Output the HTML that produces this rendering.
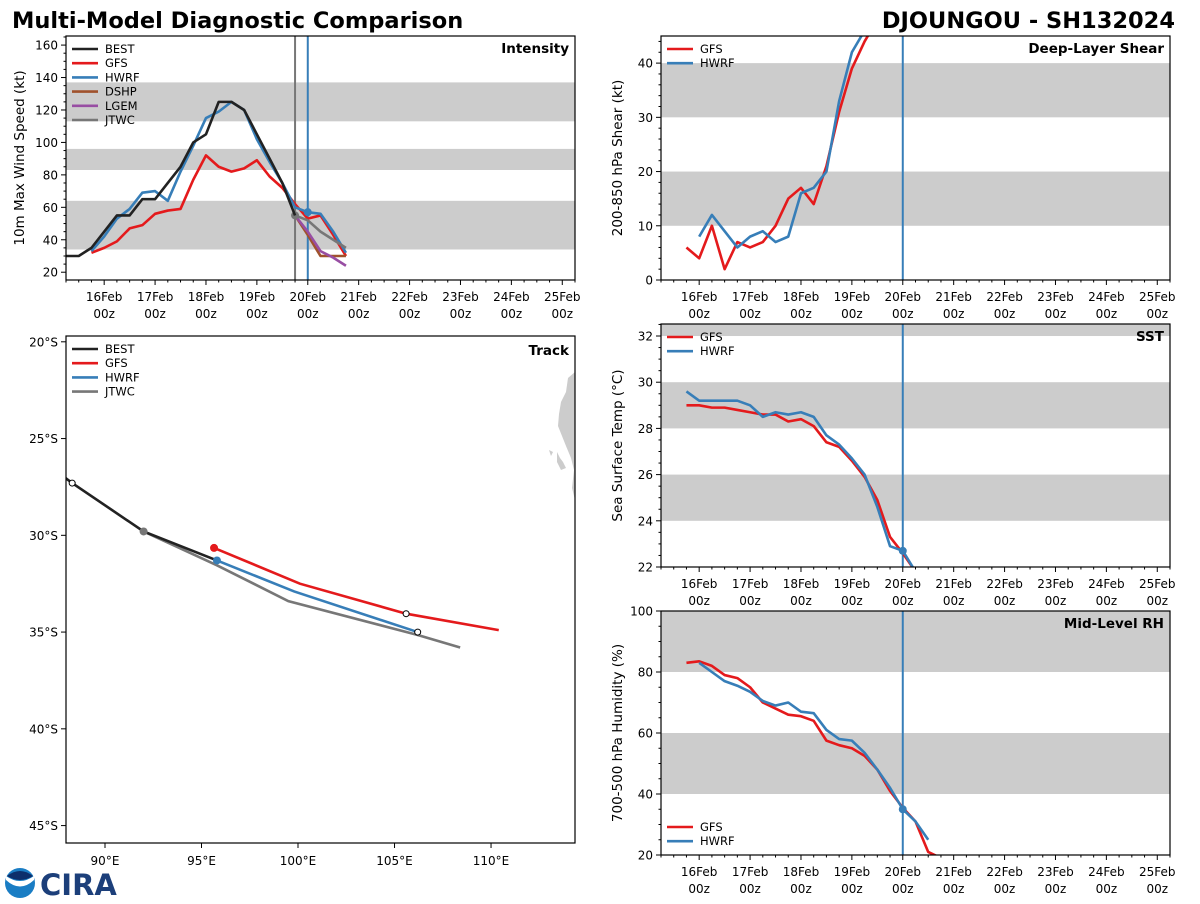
<!DOCTYPE html>
<html><head><meta charset="utf-8">
<style>
body{margin:0;background:#fff;width:1200px;height:900px;overflow:hidden;font-family:"DejaVu Sans","Liberation Sans",sans-serif;}
svg text{font-family:"DejaVu Sans","Liberation Sans",sans-serif;}
</style></head>
<body>
<svg id="chart" width="1200" height="900" viewBox="0 0 1200 900" xmlns="http://www.w3.org/2000/svg">
<text x="12" y="28" font-size="22.5" font-weight="bold">Multi-Model Diagnostic Comparison</text>
<text x="1175" y="28" font-size="22.5" font-weight="bold" text-anchor="end">DJOUNGOU - SH132024</text>
<g>
<circle cx="20" cy="883" r="15" fill="#1a7dc4"/>
<path d="M6,880 Q20,893 34,880 L34,876 Q20,886 6,876 Z" fill="#fff"/>
<path d="M7,876 Q20,866 33,876 Q20,884 7,876 Z" fill="#0d2f6b"/>
<text x="40" y="895" font-size="29" font-weight="bold" fill="#1c3f7a" font-family="Liberation Serif,serif">CIRA</text>
</g>
</svg>
<script>
// ---- data (hours since 16Feb 00z) ----
const dayLabels=["16Feb","17Feb","18Feb","19Feb","20Feb","21Feb","22Feb","23Feb","24Feb","25Feb"];
const intT_best=[-18,-12,-6,0,6,12,18,24,30,36,42,48,54,60,66,72,78,84,90];
const intV_best=[30,30,35,45,55,55,65,65,75,85,100,105,125,125,120,105,90,75,55];
const intT_gfs=[-6,0,6,12,18,24,30,36,42,48,54,60,66,72,78,84,90,96,102,108,114];
const intV_gfs=[32,35,39,47,49,56,58,59,77,92,85,82,84,89,79,72,62,53,55,43,30];
const intT_hwrf=[-6,0,6,12,18,24,30,36,42,48,54,60,66,72,78,84,90,96,102,108,114];
const intV_hwrf=[33,42,53,59,69,70,64,82,98,115,119,125,120,102,88,75,60,57,56,45,32];
const intT_fc=[90,96,102,108,114];
const intV_dshp=[55,43,30,30,30];
const intV_lgem=[55,45,33,29,24];
const intV_jtwc=[55,52,45,40,35];
const shT_gfs=[-6,0,6,12,18,24,30,36,42,48,54,60,66,72,78,84];
const shV_gfs=[6,4,10,2,7,6,7,10,15,17,14,21,31,39,44,48];
const shT_hwrf=[0,6,12,18,24,30,36,42,48,54,60,66,72,78];
const shV_hwrf=[8,12,9,6,8,9,7,8,16,17,20,33,42,46];
const sstT=[-6,0,6,12,18,24,30,36,42,48,54,60,66,72,78,84,90,96,102];
const sstV_gfs=[29.0,29.0,28.9,28.9,28.8,28.7,28.6,28.6,28.3,28.4,28.1,27.4,27.2,26.6,25.9,24.9,23.3,22.6,21.8];
const sstV_hwrf=[29.6,29.2,29.2,29.2,29.2,29.0,28.5,28.7,28.6,28.7,28.5,27.7,27.3,26.7,26.0,24.6,22.9,22.7,21.8];
const rhT_gfs=[-6,0,6,12,18,24,30,36,42,48,54,60,66,72,78,84,90,96,102,108,114];
const rhV_gfs=[83,83.5,82,79,78,75,70,68,66,65.5,64,57.5,56,55,52.5,48,41,35.5,31,21,19];
const rhT_hwrf=[0,6,12,18,24,30,36,42,48,54,60,66,72,78,84,90,96,102,108];
const rhV_hwrf=[83,80,77,75.5,73.5,70.5,69,70,67,66.5,61,58,57.5,53.5,48,42,35,31,25];
const trkLon_best=[87.9,88.3,92.0,95.8];
const trkLat_best=[-27.0,-27.3,-29.8,-31.3];
const trkLon_gfs=[95.65,100.1,105.6,110.4];
const trkLat_gfs=[-30.65,-32.5,-34.05,-34.9];
const trkLon_hwrf=[95.8,99.8,106.2];
const trkLat_hwrf=[-31.3,-32.9,-35.0];
const trkLon_jtwc=[92.0,95.8,99.5,106.2,108.4];
const trkLat_jtwc=[-29.8,-31.55,-33.4,-35.15,-35.8];

const C={best:"#222",gfs:"#e41a1c",hwrf:"#377eb8",dshp:"#a0522d",lgem:"#984ea3",jtwc:"#777"};
const svg=document.getElementById('chart');
const NS="http://www.w3.org/2000/svg";
function mk(tag,attrs,parent){const e=document.createElementNS(NS,tag);for(const k in attrs)e.setAttribute(k,attrs[k]);(parent||svg).appendChild(e);return e;}

function timePanel(o){
  const g=mk('g',{});
  
  
  const X=t=>o.x0+(t+18)/240*(o.x1-o.x0);
  const Y=v=>o.y1-(v-o.vmin)/(o.vmax-o.vmin)*(o.y1-o.y0);
  o.bands.forEach(b=>{const ya=Math.max(Y(b[1]),o.y0),yb=Math.min(Y(b[0]),o.y1);
    const r=mk('rect',{x:o.x0,y:ya,width:o.x1-o.x0,height:yb-ya,fill:"#cccccc"},g);
    });
  const clipId=o.name+'-clip';
  const cp=mk('clipPath',{id:clipId},g);mk('rect',{x:o.x0,y:o.y0,width:o.x1-o.x0,height:o.y1-o.y0},cp);
  (o.vlines||[]).forEach(v=>{const l=mk('line',{x1:X(v[0]),x2:X(v[0]),y1:o.y0,y2:o.y1,stroke:v[1],'stroke-width':2},g);
    });
  const lg=mk('g',{'clip-path':`url(#${clipId})`},g);
  o.series.forEach(s=>{
    const p=mk('polyline',{points:s.t.map((t,i)=>X(t)+','+Y(s.v[i])).join(' '),fill:'none',stroke:C[s.k],'stroke-width':2.6,'stroke-linejoin':'round'},lg);
    
    if(s.dot!==undefined){const i=s.t.indexOf(s.dot);const c=mk('circle',{cx:X(s.t[i]),cy:Y(s.v[i]),r:4,fill:C[s.k]},lg);
      }
  });
  const fr=mk('rect',{x:o.x0,y:o.y0,width:o.x1-o.x0,height:o.y1-o.y0,fill:'none',stroke:'#000','stroke-width':1.2},g);
  
  for(let t=-18;t<=222;t+=6){const maj=t%24===0;mk('line',{x1:X(t),x2:X(t),y1:o.y1,y2:o.y1+(maj?5:2.5),stroke:'#000'},g);}
  dayLabels.forEach((d,i)=>{const x=X(i*24);
    const a=mk('text',{x:x,y:o.y1+21,'font-size':12,'text-anchor':'middle'},g);a.textContent=d;
    
    const b=mk('text',{x:x,y:o.y1+38,'font-size':12,'text-anchor':'middle'},g);b.textContent='00z';
    });
  for(let v=o.vmin0;v<=o.vmax;v+=o.minor){if(v<o.vmin)continue;const maj=Math.abs((v-o.tick0)/o.step-Math.round((v-o.tick0)/o.step))<1e-6;
    mk('line',{x1:o.x0,x2:o.x0-(maj?5:2.5),y1:Y(v),y2:Y(v),stroke:'#000'},g);
    if(maj){const tx=mk('text',{x:o.x0-8,y:Y(v)+4.5,'font-size':12,'text-anchor':'end'},g);tx.textContent=v;
      }}
  const yl=mk('text',{x:0,y:0,'font-size':13.5,'text-anchor':'middle',transform:`translate(${o.ylx},${(o.y0+o.y1)/2}) rotate(-90)`},g);
  yl.textContent=o.ylabel;
  const ti=mk('text',{x:o.x1-6,y:o.y0+17,'font-size':13.5,'font-weight':'bold','text-anchor':'end'},g);
  ti.textContent=o.title;
  legend(g,o.x0+6,o.legY!==undefined?o.legY:o.y0+13,o.legend);
}
function legend(g,x,y,keys){
  const lg=mk('g',{},g);
  keys.forEach((k,i)=>{const yy=y+i*14.2;
    mk('line',{x1:x,x2:x+26,y1:yy,y2:yy,stroke:C[k],'stroke-width':2.6},lg);
    const t=mk('text',{x:x+33,y:yy+4,'font-size':11.5},lg);t.textContent=k.toUpperCase();
    });
}

timePanel({name:'intensity-panel',x0:66,x1:575,y0:36,y1:280,vmin:15.2,vmax:165.6,vmin0:20,tick0:20,step:20,minor:5,
  bands:[[34,64],[83,96],[113,137]],vlines:[[90,'#777'],[96,C.hwrf]],title:'Intensity',ylabel:'10m Max Wind Speed (kt)',ylx:24,
  legend:['best','gfs','hwrf','dshp','lgem','jtwc'],
  series:[{k:'gfs',t:intT_gfs,v:intV_gfs},{k:'hwrf',t:intT_hwrf,v:intV_hwrf,dot:96},{k:'dshp',t:intT_fc,v:intV_dshp},
    {k:'lgem',t:intT_fc,v:intV_lgem},{k:'jtwc',t:intT_fc,v:intV_jtwc,dot:90},{k:'best',t:intT_best,v:intV_best}]});
timePanel({name:'shear-panel',x0:661,x1:1170,y0:36,y1:280,vmin:0,vmax:45,vmin0:0,tick0:0,step:10,minor:2,
  bands:[[10,20],[30,40]],vlines:[[96,C.hwrf]],title:'Deep-Layer Shear',ylabel:'200-850 hPa Shear (kt)',ylx:622,
  legend:['gfs','hwrf'],series:[{k:'gfs',t:shT_gfs,v:shV_gfs},{k:'hwrf',t:shT_hwrf,v:shV_hwrf}]});
timePanel({name:'sst-panel',x0:661,x1:1170,y0:324,y1:567,vmin:22,vmax:32.52,vmin0:22,tick0:22,step:2,minor:0.5,
  bands:[[24,26],[28,30],[32,34]],vlines:[[96,C.hwrf]],title:'SST',ylabel:'Sea Surface Temp (°C)',ylx:622,
  legend:['gfs','hwrf'],series:[{k:'gfs',t:sstT,v:sstV_gfs},{k:'hwrf',t:sstT,v:sstV_hwrf,dot:96}]});
timePanel({name:'rh-panel',x0:661,x1:1170,y0:611,y1:855,vmin:20,vmax:100,vmin0:20,tick0:20,step:20,minor:5,
  bands:[[40,60],[80,100]],vlines:[[96,C.hwrf]],title:'Mid-Level RH',ylabel:'700-500 hPa Humidity (%)',ylx:622,legY:827,
  legend:['gfs','hwrf'],series:[{k:'gfs',t:rhT_gfs,v:rhV_gfs},{k:'hwrf',t:rhT_hwrf,v:rhV_hwrf,dot:96}]});

// ---- track panel ----
(function(){
  const x0=66,x1=575,y0=336,y1=843;
  const g=mk('g',{});
  const X=lon=>x0+(lon-87.98)/(114.35-87.98)*(x1-x0);
  const Y=lat=>y0+(-19.7-lat)/(45.9-19.7)*(y1-y0);
  const cp=mk('clipPath',{id:'trk-clip'},g);mk('rect',{x:x0,y:y0,width:x1-x0,height:y1-y0},cp);
  const lg=mk('g',{'clip-path':'url(#trk-clip)'},g);
  const land=mk('path',{d:"M575,372 L568,378 L566,392 L561,402 L559,414 L558,426 L562,436 L566,446 L571,458 L574,470 L572,488 L575,500 Z M549,450 L551,456 L553,452 Z M557,452 L560,458 L563,462 L566,468 L561,470 L557,462 Z",fill:'#cccccc'},lg);
  
  const tr=[['jtwc',trkLon_jtwc,trkLat_jtwc],['hwrf',trkLon_hwrf,trkLat_hwrf],['gfs',trkLon_gfs,trkLat_gfs],['best',trkLon_best,trkLat_best]];
  tr.forEach(([k,lo,la])=>{const p=mk('polyline',{points:lo.map((v,i)=>X(v)+','+Y(la[i])).join(' '),fill:'none',stroke:C[k],'stroke-width':2.6},lg);
    });
  function dot(lon,lat,col,open,name){const c=mk('circle',{cx:X(lon),cy:Y(lat),r:open?3:4,fill:open?'#fff':col,stroke:open?'#000':'none','stroke-width':1},lg);
    }
  dot(trkLon_best[1],trkLat_best[1],'#000',true,'best-track-marker');
  dot(trkLon_jtwc[0],trkLat_jtwc[0],C.jtwc,false,'jtwc-init-marker');
  dot(trkLon_gfs[0],trkLat_gfs[0],C.gfs,false,'gfs-init-marker');
  dot(trkLon_hwrf[0],trkLat_hwrf[0],C.hwrf,false,'hwrf-init-marker');
  dot(trkLon_gfs[2],trkLat_gfs[2],'#000',true,'gfs-track-marker');
  dot(trkLon_hwrf[2],trkLat_hwrf[2],'#000',true,'hwrf-track-marker');
  mk('rect',{x:x0,y:y0,width:x1-x0,height:y1-y0,fill:'none',stroke:'#000','stroke-width':1.2},g);
  [90,95,100,105,110].forEach(l=>{mk('line',{x1:X(l),x2:X(l),y1:y1,y2:y1+5,stroke:'#000'},g);
    const t=mk('text',{x:X(l),y:y1+22,'font-size':12,'text-anchor':'middle'},g);t.textContent=l+'°E';
    });
  [20,25,30,35,40,45].forEach(l=>{mk('line',{x1:x0,x2:x0-5,y1:Y(-l),y2:Y(-l),stroke:'#000'},g);
    const t=mk('text',{x:x0-8,y:Y(-l)+4.5,'font-size':12,'text-anchor':'end'},g);t.textContent=l+'°S';
    });
  const ti=mk('text',{x:x1-6,y:y0+19,'font-size':13.5,'font-weight':'bold','text-anchor':'end'},g);ti.textContent='Track';
  
  legend(g,x0+6,y0+13,['best','gfs','hwrf','jtwc']);
})();
</script>
</body></html>
